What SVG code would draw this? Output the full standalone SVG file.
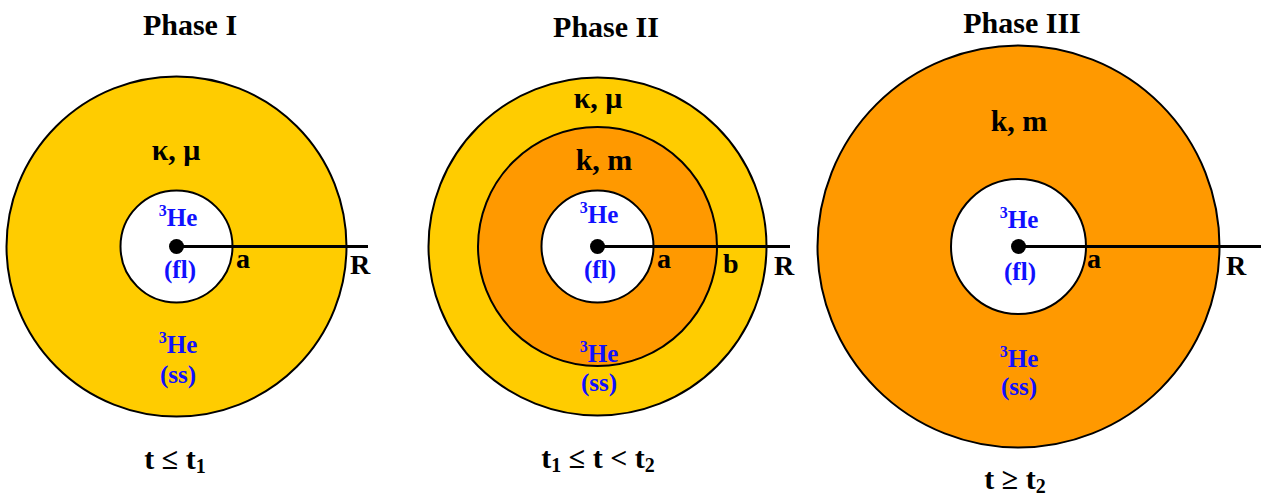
<svg xmlns="http://www.w3.org/2000/svg" width="1261" height="495" viewBox="0 0 1261 495">
<style>
text{font-family:"Liberation Serif","Times New Roman",serif;font-weight:bold;text-anchor:middle}
.t{font-size:30px;fill:#000}
.p{font-size:30px;fill:#000}
.l{font-size:28px;fill:#000;text-anchor:start}
.b{font-size:25px;fill:#1010ff}
.sup{font-size:16px}
.sub{font-size:20px}
.ring{stroke:#000;stroke-width:2}
.yel{fill:#FFCC00}
.ora{fill:#FF9900}
.wh{fill:#fff}
.rad{stroke:#000;stroke-width:3}
</style>
<g id="phase1">
<circle class="ring yel" cx="176.5" cy="246.5" r="170"/>
<circle class="ring wh" cx="176.5" cy="246.5" r="56"/>
<line class="rad" x1="176.5" y1="246.5" x2="368" y2="246.5"/>
<circle cx="176.5" cy="246.5" r="7.5"/>
<text class="t" x="190" y="35">Phase I</text>
<text class="p" x="176" y="160">κ, μ</text>
<text class="b" x="178" y="226"><tspan class="sup" dy="-10">3</tspan><tspan dy="10">He</tspan></text>
<text class="b" x="180" y="278">(fl)</text>
<text class="l" x="236" y="268">a</text>
<text class="l" x="350" y="274">R</text>
<text class="b" x="178" y="353"><tspan class="sup" dy="-10">3</tspan><tspan dy="10">He</tspan></text>
<text class="b" x="178" y="383">(ss)</text>
<text class="t" x="175" y="469">t ≤ t<tspan class="sub" dy="4">1</tspan></text>
</g>
<g id="phase2">
<circle class="ring yel" cx="597.5" cy="246.5" r="169"/>
<circle class="ring ora" cx="597.5" cy="246.5" r="119.5"/>
<circle class="ring wh" cx="597.5" cy="246.5" r="56"/>
<line class="rad" x1="597.5" y1="246.5" x2="790" y2="246.5"/>
<circle cx="597.5" cy="246.5" r="7.5"/>
<text class="t" x="606" y="37">Phase II</text>
<text class="p" x="598" y="108">κ, μ</text>
<text class="p" x="604" y="170">k, m</text>
<text class="b" x="599" y="223"><tspan class="sup" dy="-10">3</tspan><tspan dy="10">He</tspan></text>
<text class="b" x="600" y="278">(fl)</text>
<text class="l" x="657" y="268">a</text>
<text class="l" x="723" y="273">b</text>
<text class="l" x="774" y="275">R</text>
<text class="b" x="599" y="362"><tspan class="sup" dy="-10">3</tspan><tspan dy="10">He</tspan></text>
<text class="b" x="599" y="391">(ss)</text>
<text class="t" x="598" y="468">t<tspan class="sub" dy="4">1</tspan><tspan dy="-4"> ≤ t &lt; t</tspan><tspan class="sub" dy="4">2</tspan></text>
</g>
<g id="phase3">
<circle class="ring ora" cx="1018.5" cy="246.5" r="201"/>
<circle class="ring wh" cx="1018.5" cy="246.5" r="67.5"/>
<line class="rad" x1="1018.5" y1="246.5" x2="1261" y2="246.5"/>
<circle cx="1018.5" cy="246.5" r="7.5"/>
<text class="t" x="1022" y="33">Phase III</text>
<text class="p" x="1019" y="131">k, m</text>
<text class="b" x="1019" y="228"><tspan class="sup" dy="-10">3</tspan><tspan dy="10">He</tspan></text>
<text class="b" x="1020" y="280">(fl)</text>
<text class="l" x="1087" y="268">a</text>
<text class="l" x="1226" y="275">R</text>
<text class="b" x="1019" y="367"><tspan class="sup" dy="-10">3</tspan><tspan dy="10">He</tspan></text>
<text class="b" x="1019" y="395">(ss)</text>
<text class="t" x="1015" y="489">t ≥ t<tspan class="sub" dy="4">2</tspan></text>
</g>
</svg>
